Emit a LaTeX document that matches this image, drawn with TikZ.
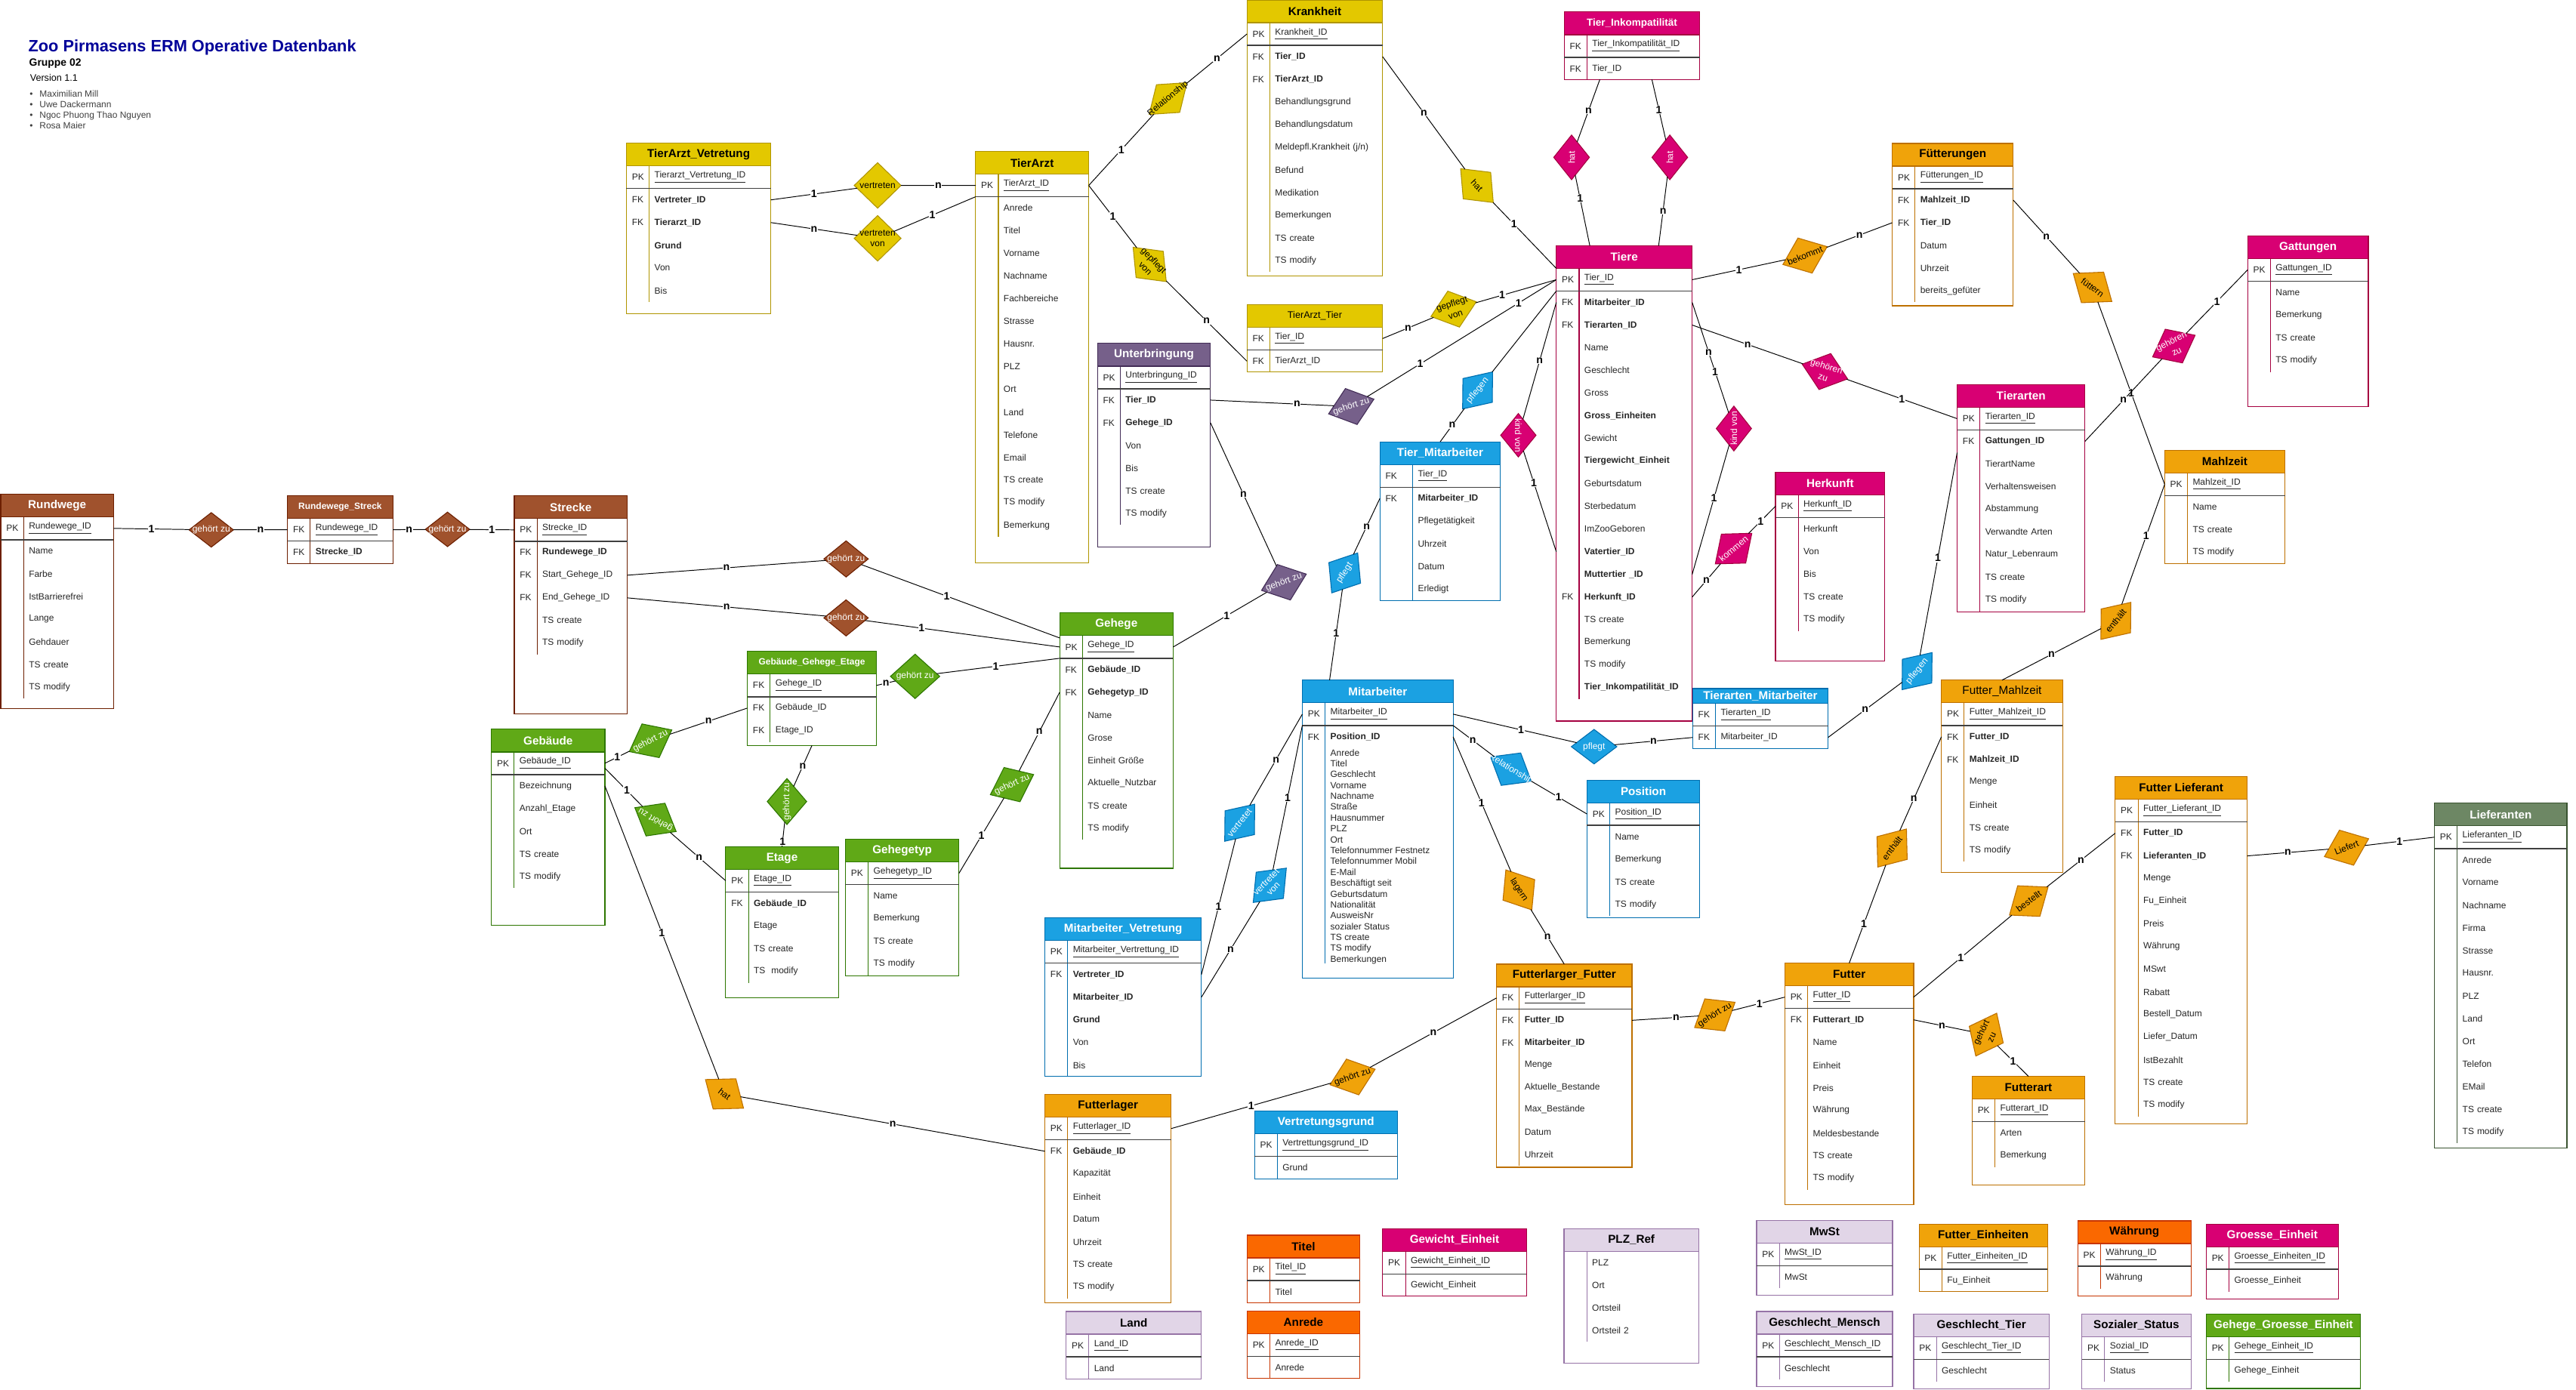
\documentclass[tikz,border=0pt]{standalone}
\usepackage{fontspec}
\setmainfont{Liberation Sans}
\usetikzlibrary{shapes.geometric,calc}

% farben: F = fuellung, L = linie, T = text
\definecolor{yelF}{HTML}{E3C800}\definecolor{yelL}{HTML}{B09500}\colorlet{yelT}{black}
\definecolor{brnF}{HTML}{A0522D}\definecolor{brnL}{HTML}{6D1F00}\colorlet{brnT}{white}
\definecolor{grnF}{HTML}{60A917}\definecolor{grnL}{HTML}{2D7600}\colorlet{grnT}{white}
\definecolor{magF}{HTML}{D80073}\definecolor{magL}{HTML}{A50040}\colorlet{magT}{white}
\definecolor{orgF}{HTML}{F0A30A}\definecolor{orgL}{HTML}{BD7000}\colorlet{orgT}{black}
\definecolor{purF}{HTML}{76608A}\definecolor{purL}{HTML}{432D57}\colorlet{purT}{white}
\definecolor{bluF}{HTML}{1BA1E2}\definecolor{bluL}{HTML}{006EAF}\colorlet{bluT}{white}
\definecolor{olvF}{HTML}{6D8764}\definecolor{olvL}{HTML}{3A5431}\colorlet{olvT}{white}
\definecolor{lilF}{HTML}{E1D5E7}\definecolor{lilL}{HTML}{9673A6}\colorlet{lilT}{black}
\definecolor{redF}{HTML}{FA6800}\definecolor{redL}{HTML}{C73500}\colorlet{redT}{black}
\definecolor{titelblau}{HTML}{000099}

\newcommand{\keyw}{13.9}
\newcommand{\hdrh}{13.8}

% tabelle: [zeilenhoehe]{name}{x}{y}{breite}{hoehe}{farbe}{titel}{zeilen}
\newcommand{\ertable}[9][13.8]{%
  \node[tbox=#7, minimum width=#5pt, minimum height=#6pt] (#2) at (#3,#4) {};
  \node[thead=#7, minimum width=#5pt] (#2-h) at (#3,#4) {#8};
  \foreach[count=\i] \tk/\tv in {#9}{
    \node[trow, text width=#5pt, minimum height=#1pt] (#2-\i) at ($(#2-h.south west)+(0,{(\i-1)*#1})$) {\hspace*{\dimexpr\keyw pt+3.2pt\relax}\tv};
    \node[tkey] (#2-k\i) at ($(#2-\i.west)+(3.2,0)$) {\tk};
    \draw[#7L, line width=0.5pt] ($(#2-\i.north west)+(\keyw,0)$) -- ($(#2-\i.south west)+(\keyw,0)$);
  }
  \draw[tsep] (#2-1.south west) -- (#2-1.south east);
}

\begin{document}
\begin{tikzpicture}[x=1pt, y=-1pt,
		tbox/.style={draw=#1L, line width=0.55pt, anchor=north west, inner sep=0pt, outer sep=0pt},
		thead/.style={draw=#1L, fill=#1F, text=#1T, line width=0.55pt, anchor=north west, inner sep=0pt, outer sep=0pt, minimum height=\hdrh pt, font=\bfseries\fontsize{7}{8.4}\selectfont},
		trow/.style={anchor=north west, inner sep=0pt, outer sep=0pt, align=left, text=black!85, font=\fontsize{5.5}{6.6}\selectfont},
		tkey/.style={anchor=west, inner sep=0pt, text=black!85, font=\fontsize{5.5}{6.6}\selectfont},
		tsep/.style={draw=black!75, line width=0.65pt},
		rel/.style={diamond, draw=#1L, fill=#1F, text=#1T, line width=0.5pt, inner sep=0pt, outer sep=0pt, font=\fontsize{5.5}{6.2}\selectfont},
		conn/.style={draw=black, line width=0.45pt},
		card/.style={fill=white, inner sep=0.3pt, font=\bfseries\fontsize{6.5}{7}\selectfont}]
		
		\fill[white] (0,0) rectangle (1568,846);
		\useasboundingbox (0,0) rectangle (1568,846);
		
		%titel
		\node[anchor=base west, inner sep=0pt, text=titelblau, font=\bfseries\fontsize{10}{12}\selectfont] (titel) at (17.1,31.3) {Zoo Pirmasens ERM Operative Datenbank};
		\node[anchor=base west, inner sep=0pt, font=\bfseries\fontsize{6.4}{7.5}\selectfont] (gruppe) at (17.6,40.4) {Gruppe 02};
		\node[anchor=base west, inner sep=0pt, font=\fontsize{5.8}{7}\selectfont] (version) at (18.1,49.6) {Version 1.1};
		\foreach[count=\i] \autor in {Maximilian Mill, Uwe Dackermann, Ngoc Phuong Thao Nguyen, Rosa Maier}
		\node[anchor=base west, inner sep=0pt, text=black!75, font=\fontsize{5.5}{6.6}\selectfont] (autor\i) at (17.9,{59.1+(\i-1)*6.47}) {\makebox[6pt][l]{\textbullet}\autor};
		
		%rundwege
		\ertable{rundwege}{0.5}{301}{68.6}{130.5}{brn}{Rundwege}{PK/\underline{Rundewege\_ID}, /Name, /Farbe, /IstBarrierefrei, /Lange, /Gehdauer, /TS create, /TS modify}
		\ertable[13.6]{rwstreck}{175}{301.9}{64.1}{41.3}{brn}{\fontsize{5.5}{6.6}\selectfont Rundewege\_Streck}{FK/\underline{Rundewege\_ID}, FK/\textbf{Strecke\_ID}}
		\ertable{strecke}{313}{301.9}{68.8}{132.7}{brn}{Strecke}{PK/\underline{Strecke\_ID}, FK/\textbf{Rundewege\_ID}, FK/Start\_Gehege\_ID, FK/End\_Gehege\_ID, /TS create, /TS modify}
		
		%gebaeude und gehege
		\ertable{gebaeude}{299.1}{444}{69.1}{119.3}{grn}{Gebäude}{PK/\underline{Gebäude\_ID}, /Bezeichnung, /Anzahl\_Etage, /Ort, /TS create, /TS modify}
		\ertable{etage}{441.7}{515.5}{68.6}{91.8}{grn}{Etage}{PK/\underline{Etage\_ID}, FK/\textbf{Gebäude\_ID}, /Etage, /TS create, /TS\ \ modify}
		\ertable{gehegetyp}{514.6}{511}{69.1}{83.1}{grn}{Gehegetyp}{PK/\underline{Gehegetyp\_ID}, /Name, /Bemerkung, /TS create, /TS modify}
		\ertable{gge}{454.9}{396.6}{78.6}{57.3}{grn}{\fontsize{5.5}{6.6}\selectfont Gebäude\_Gehege\_Etage}{FK/\underline{Gehege\_ID}, FK/Gebäude\_ID, FK/Etage\_ID}
		\ertable{gehege}{645}{373.2}{69.1}{155.4}{grn}{Gehege}{PK/\underline{Gehege\_ID}, FK/\textbf{Gebäude\_ID}, FK/\textbf{Gehegetyp\_ID}, /Name, /Grose, /Einheit Größe, /Aktuelle\_Nutzbar, /TS create, /TS modify}
		
		%tierarzt
		\ertable{tierarzt}{593.8}{92.2}{68.9}{250.4}{yel}{TierArzt}{PK/\underline{TierArzt\_ID}, /Anrede, /Titel, /Vorname, /Nachname, /Fachbereiche, /Strasse, /Hausnr., /PLZ, /Ort, /Land, /Telefone, /Email, /TS create, /TS modify, /Bemerkung}
		\ertable{tav}{381.3}{87.2}{87.9}{103.7}{yel}{TierArzt\_Vetretung}{PK/\underline{Tierarzt\_Vertretung\_ID}, FK/\textbf{Vertreter\_ID}, FK/\textbf{Tierarzt\_ID}, /\textbf{Grund}, /Von, /Bis}
		\ertable{krankheit}{759}{0}{82.6}{168}{yel}{Krankheit}{PK/\underline{Krankheit\_ID}, FK/\textbf{Tier\_ID}, FK/\textbf{TierArzt\_ID}, /Behandlungsgrund, /Behandlungsdatum, /{Meldepfl.Krankheit (j/n)}, /Befund, /Medikation, /Bemerkungen, /TS create, /TS modify}
		\ertable{tat}{759}{185.4}{82.6}{41.1}{yel}{\mdseries\fontsize{5.8}{7}\selectfont TierArzt\_Tier}{FK/\underline{Tier\_ID}, FK/TierArzt\_ID}
		\ertable{unterbr}{668}{209.1}{68.8}{124.1}{pur}{Unterbringung}{PK/\underline{Unterbringung\_ID}, FK/\textbf{Tier\_ID}, FK/\textbf{Gehege\_ID}, /Von, /Bis, /TS create, /TS modify}
		
		%tiere
		\ertable{tinkomp}{952.1}{7.3}{82.5}{41.1}{mag}{\fontsize{6.2}{7.4}\selectfont Tier\_Inkompatilität}{FK/\underline{Tier\_Inkompatilität\_ID}, FK/Tier\_ID}
		\ertable{tiere}{947.3}{149.6}{82.7}{289.4}{mag}{Tiere}{PK/\underline{Tier\_ID}, FK/\textbf{Mitarbeiter\_ID}, FK/\textbf{Tierarten\_ID}, /Name, /Geschlecht, /Gross, /\textbf{Gross\_Einheiten}, /Gewicht, /\textbf{Tiergewicht\_Einheit}, /Geburtsdatum, /Sterbedatum, /ImZooGeboren, /\textbf{Vatertier\_ID}, /\textbf{Muttertier \_ID}, FK/\textbf{Herkunft\_ID}, /TS create, /Bemerkung, /TS modify, /\textbf{Tier\_Inkompatilität\_ID}}
		\begin{scope}
			\renewcommand{\keyw}{20}
			\ertable{tiermit}{839.9}{269}{73.4}{96.7}{blu}{Tier\_Mitarbeiter}{FK/\underline{Tier\_ID}, FK/\textbf{Mitarbeiter\_ID}, /Pflegetätigkeit, /Uhrzeit, /Datum, /Erledigt}
		\end{scope}
		\ertable{herkunft}{1080.7}{287.5}{66.6}{114.9}{mag}{Herkunft}{PK/\underline{Herkunft\_ID}, /Herkunft, /Von, /Bis, /TS create, /TS modify}
		\ertable{fuetter}{1151.8}{87.3}{73.6}{98.9}{org}{Fütterungen}{PK/\underline{Fütterungen\_ID}, FK/\textbf{Mahlzeit\_ID}, FK/\textbf{Tier\_ID}, /Datum, /Uhrzeit, /bereits\_gefüter}
		\ertable{gattungen}{1368.1}{143.6}{73.5}{103.8}{mag}{Gattungen}{PK/\underline{Gattungen\_ID}, /Name, /Bemerkung, /TS create, /TS modify}
		\ertable{tierarten}{1191.3}{234.2}{77.8}{138.2}{mag}{Tierarten}{PK/\underline{Tierarten\_ID}, FK/\textbf{Gattungen\_ID}, /TierartName, /Verhaltensweisen, /Abstammung, /Verwandte Arten, /Natur\_Lebenraum, /TS create, /TS modify}
		\ertable{mahlzeit}{1317.6}{274.2}{73.2}{69}{org}{Mahlzeit}{PK/\underline{Mahlzeit\_ID}, /Name, /TS create, /TS modify}
		
		%mitarbeiter
		\ertable{mitarb}{792.7}{414.1}{91.8}{181.3}{blu}{Mitarbeiter}{PK/\underline{Mitarbeiter\_ID}, FK/\textbf{Position\_ID}}
		\node[trow, font=\fontsize{5.5}{6.61}\selectfont] (mitarb-liste) at ($(mitarb-2.south west)+(17.1,0.7)$) {Anrede\\Titel\\Geschlecht\\Vorname\\Nachname\\Straße\\Hausnummer\\PLZ\\Ort\\Telefonnummer Festnetz\\Telefonnummer Mobil\\E-Mail\\Beschäftigt seit\\Geburtsdatum\\Nationalität\\AusweisNr\\sozialer Status\\TS create\\TS modify\\Bemerkungen};
		\draw[bluL, line width=0.5pt] ($(mitarb-2.south west)+(\keyw,0)$) -- ++(0,130.9);
		\ertable{position}{966}{474.9}{68.6}{83.7}{blu}{Position}{PK/\underline{Position\_ID}, /Name, /Bemerkung, /TS create, /TS modify}
		\begin{scope}
			\renewcommand{\hdrh}{9.1}
			\ertable{tam}{1030.3}{419.2}{82.4}{36.5}{blu}{Tierarten\_Mitarbeiter}{FK/\underline{Tierarten\_ID}, FK/Mitarbeiter\_ID}
		\end{scope}
		\ertable{mvertr}{636}{558.8}{95.3}{96.5}{blu}{Mitarbeiter\_Vetretung}{PK/\underline{Mitarbeiter\_Vertrettung\_ID}, FK/\textbf{Vertreter\_ID}, /\textbf{Mitarbeiter\_ID}, /\textbf{Grund}, /Von, /Bis}
		\ertable{vgrund}{763.6}{676.5}{87}{41.3}{blu}{Vertretungsgrund}{PK/\underline{Vertrettungsgrund\_ID}, /Grund}
		
		%futter
		\ertable{fmahl}{1181.7}{414.1}{73.8}{117}{org}{\mdseries Futter\_Mahlzeit}{PK/\underline{Futter\_Mahlzeit\_ID}, FK/\textbf{Futter\_ID}, FK/\textbf{Mahlzeit\_ID}, /Menge, /Einheit, /TS create, /TS modify}
		\ertable{flief}{1287.5}{472.8}{80.3}{211.4}{org}{Futter Lieferant}{PK/\underline{Futter\_Lieferant\_ID}, FK/\textbf{Futter\_ID}, FK/\textbf{Lieferanten\_ID}, /Menge, /Fu\_Einheit, /Preis, /Währung, /MSwt, /Rabatt, /Bestell\_Datum, /Liefer\_Datum, /IstBezahlt, /TS create, /TS modify}
		\ertable{liefer}{1481.8}{489}{80.7}{210}{olv}{Lieferanten}{PK/\underline{Lieferanten\_ID}, /Anrede, /Vorname, /Nachname, /Firma, /Strasse, /Hausnr., /PLZ, /Land, /Ort, /Telefon, /EMail, /TS create, /TS modify}
		\ertable{futter}{1086.4}{586.4}{78.4}{147}{org}{Futter}{PK/\underline{Futter\_ID}, FK/\textbf{Futterart\_ID}, /Name, /Einheit, /Preis, /Währung, /Meldesbestande, /TS create, /TS modify}
		\ertable{futterart}{1200.4}{655.3}{68.6}{66.3}{org}{Futterart}{PK/\underline{Futterart\_ID}, /Arten, /Bemerkung}
		\ertable[13.6]{ffutter}{910.9}{587}{82.5}{123.7}{org}{Futterlarger\_Futter}{FK/\underline{Futterlarger\_ID}, FK/\textbf{Futter\_ID}, FK/\textbf{Mitarbeiter\_ID}, /Menge, /Aktuelle\_Bestande, /Max\_Bestände, /Datum, /Uhrzeit}
		\ertable{flager}{636}{666.4}{76.9}{126.9}{org}{Futterlager}{PK/\underline{Futterlager\_ID}, FK/\textbf{Gebäude\_ID}, /Kapazität, /Einheit, /Datum, /Uhrzeit, /TS create, /TS modify}
		
		%referenztabellen
		\ertable{titel-ref}{759.1}{752}{68.6}{41.1}{red}{Titel}{PK/\underline{Titel\_ID}, /Titel}
		\ertable{anrede}{759.1}{798.1}{68.6}{41}{red}{Anrede}{PK/\underline{Anrede\_ID}, /Anrede}
		\ertable{land}{648.9}{798.5}{82.4}{41}{lil}{Land}{PK/\underline{Land\_ID}, /Land}
		\ertable{gewicht}{841.6}{748}{87.5}{41.1}{mag}{Gewicht\_Einheit}{PK/\underline{Gewicht\_Einheit\_ID}, /Gewicht\_Einheit}
		\begin{scope}[tsep/.style={draw=none}]
			\ertable{plzref}{952}{748}{82}{82}{lil}{PLZ\_Ref}{/PLZ, /Ort, /Ortsteil, /Ortsteil 2}
		\end{scope}
		\ertable{mwst}{1069.2}{743}{82.8}{45.6}{lil}{MwSt}{PK/\underline{MwSt\_ID}, /MwSt}
		\ertable{feinh}{1168.1}{745.2}{78.2}{41.1}{org}{Futter\_Einheiten}{PK/\underline{Futter\_Einheiten\_ID}, /Fu\_Einheit}
		\ertable{waehrung}{1264.7}{743.3}{68.9}{45.8}{red}{Währung}{PK/\underline{Währung\_ID}, /Währung}
		\ertable{groesse}{1342.9}{745.2}{80.4}{45.8}{mag}{Groesse\_Einheit}{PK/\underline{Groesse\_Einheiten\_ID}, /Groesse\_Einheit}
		\ertable{gmensch}{1069.2}{798.5}{82.8}{45.6}{lil}{Geschlecht\_Mensch}{PK/\underline{Geschlecht\_Mensch\_ID}, /Geschlecht}
		\ertable{gtier}{1164.8}{800}{82.5}{45.5}{lil}{Geschlecht\_Tier}{PK/\underline{Geschlecht\_Tier\_ID}, /Geschlecht}
		\ertable{sozial}{1267.2}{800}{66.4}{45.5}{lil}{Sozialer\_Status}{PK/\underline{Sozial\_ID}, /Status}
		\ertable{ggeinh}{1342.9}{800}{93.8}{45.4}{grn}{Gehege\_Groesse\_Einheit}{PK/\underline{Gehege\_Einheit\_ID}, /Gehege\_Einheit}
		
		%beziehungen
		\foreach \rn/\rc/\rx/\ry/\ra/\rw/\rh/\rt in {
			rw1/brn/128.6/322.6/0/27/21/gehört zu,
			rw2/brn/272.4/322.3/0/27/21/gehört zu,
			st1/brn/515/340.3/0/27/22/gehört zu,
			st2/brn/515/376.2/0/27/22/gehört zu,
			gg1/grn/557/411.8/0/30/27/gehört zu,
			gb1/grn/396/451/27/29/23/gehört zu,
			gb2/grn/399/499/150/29/23/gehört zu,
			gt1/grn/616/477.7/25/29/23/gehört zu,
			ge1/grn/479/488/90/28/24/gehört zu,
			fl1/org/441/666/-37/29/23/hat,
			va1/yel/534.2/112.9/0/28.5/27.7/vertreten,
			va2/yel/534.2/145.1/0/28.5/27.7/\shortstack{vertreten\\von},
			kr1/yel/711/60/40/30/22/Relationship,
			tt1/yel/699.8/161/-46/29/23/\shortstack{gepflegt\\von},
			kr2/yel/899/113/-46/28.6/23.2/hat,
			ik1/mag/956.6/95.8/90/27.2/21.7/hat,
			ik2/mag/1016.4/95.8/90/27.2/21.7/hat,
			fu1/org/1098.7/155.6/22/29/23/bekommt,
			ta1/mag/1110.8/226.2/-18/29/23/\shortstack{gehören\\zu},
			mz1/org/1273.7/175/-36/29/23/füttern,
			ga1/mag/1323.2/210.7/27/29/23/\shortstack{gehören\\zu},
			ub1/pur/822.5/247.5/18/29/23/gehört zu,
			tt2/yel/884.8/188.2/18/29/23/\shortstack{gepflegt\\von},
			ub2/pur/781.5/354.5/20/29/23/gehört zu,
			tm1/blu/899.4/237.7/51/29/23/pflegen,
			tm2/blu/818.5/348.8/57/29/23/pflegt,
			kv1/mag/924.2/265/-90/26.4/21.5/kind von,
			kv2/mag/1055.4/260.9/90/27.3/21.4/kind von,
			hk1/mag/1055.2/334/40/29/23/kommen,
			ma1/blu/970.3/454.6/0/27.7/21/pflegt,
			ma2/blu/1166.9/408.6/51/29/23/pflegen,
			mz2/org/1287.9/378/51/29/23/enthält,
			mz3/org/1151.7/516.3/53/29/23/enthält,
			fu2/org/1234.9/548.6/36/29/23/bestellt,
			li1/org/1428.3/516.1/22/29/23/Liefert,
			fu3/org/1043.8/617.9/32/29/23/gehört zu,
			fg1/org/823.3/655.7/19/29/23/gehört zu,
			ma3/org/924.5/541.8/-57/29/23/lagern,
			po1/blu/919.7/468.3/-31/29/23/Relationship,
			mv1/blu/754.6/500.9/51/29/23/vertretet,
			mv2/blu/772.9/539/46/29/23/\shortstack{vertretet\\von},
			fa1/org/1209/629.9/64/29/23/\shortstack{gehört\\zu}}
		\node[rel=\rc, rotate=\ra, minimum width=\rw pt, minimum height=\rh pt] (\rn) at (\rx,\ry) {\makebox[0pt]{\rt}};
		
		%anschlusspunkte
		\coordinate (geh-a) at ($(gehege-1.west)+(0,-5.5)$);
		\coordinate (gb-a) at ($(gebaeude-1.east)+(0,3)$);
		\coordinate (tk-a) at ($(tinkomp.south west)+(21.7,0)$);
		\coordinate (tk-b) at ($(tinkomp.south west)+(53.4,0)$);
		\coordinate (ti-a) at ($(tiere.north west)+(20.4,0)$);
		\coordinate (ti-b) at ($(tiere.north west)+(62.3,0)$);
		\coordinate (ma-top) at ($(mitarb.north west)+(16.6,0)$);
		
		%verbindungen
		\foreach \von/\nach/\kard/\p in {
			rundwege-1.east/rw1/1/0.5, rw1/rwstreck-1.west/n/0.5,
			rwstreck-1.east/rw2/n/0.5, rw2/strecke-1.west/1/0.5,
			strecke-3.east/st1/n/0.5, st1/geh-a/1/0.43,
			strecke-4.east/st2/n/0.5, st2/gehege-1.west/1/0.29,
			gge-1.east/gg1/n/0.5, gg1/gehege-1.south west/1/0.48,
			gebaeude-1.east/gb1/1/0.5, gb1/gge-2.west/n/0.5,
			gb-a/gb2/1/0.58, gb2/etage-1.west/n/0.52,
			gehege-3.west/gt1/n/0.5, gt1/gehegetyp-1.east/1/0.5,
			gge.south/ge1/n/0.5, ge1/etage.north/1/0.8,
			gebaeude-2.east/fl1/1/0.5, fl1/flager-2.west/n/0.5,
			tav-2.east/va1/1/0.5, va1/tierarzt-1.west/n/0.5,
			tav-3.east/va2/n/0.5, va2/tierarzt-1.south west/1/0.47,
			tierarzt-1.east/kr1/1/0.5, kr1/krankheit-1.west/n/0.5,
			tierarzt-1.east/tt1/1/0.5, tt1/tat-2.west/n/0.5,
			krankheit-2.east/kr2/n/0.5, kr2/tiere-1.north west/1/0.33,
			tk-a/ik1/n/0.5, ik1/ti-a/1/0.33,
			tk-b/ik2/1/0.5, ik2/ti-b/n/0.5,
			tiere-1.east/fu1/1/0.5, fu1/fuetter-3.west/n/0.5,
			tiere-3.east/ta1/n/0.5, ta1/tierarten-1.west/1/0.5,
			fuetter-2.east/mz1/n/0.5, mz1/mahlzeit-1.west/1/0.5,
			tierarten-2.east/ga1/n/0.5, ga1/gattungen-1.west/1/0.5,
			unterbr-2.east/ub1/n/0.7,
			tat-1.east/tt2/n/0.5, tt2/tiere-1.west/1/0.33,
			gehege-1.east/ub2/1/0.57, ub2/unterbr-3.east/n/0.5,
			tiermit.north/tm1/n/0.5,
			tiermit-2.west/tm2/n/0.5, tm2/ma-top/1/0.48,
			tiere-2.west/kv1/n/0.5, kv1/tiere-13.west/1/0.32,
			kv2/tiere-14.east/1/0.41,
			tiere-15.east/hk1/n/0.5, hk1/herkunft-1.west/1/0.45,
			mitarb-1.east/ma1/1/0.55, ma1/tam-2.west/n/0.5,
			tam-2.east/ma2/n/0.5, ma2/tierarten-2.south west/1/0.48,
			mahlzeit-1.west/mz2/1/0.43, mz2/fmahl.north/n/0.5,
			fmahl-2.west/mz3/n/0.66, mz3/futter.north/1/0.6,
			futter-1.east/fu2/1/0.48, fu2/flief-2.west/n/0.5,
			flief-3.east/li1/n/0.5, li1/liefer-1.west/1/0.5,
			ffutter-2.east/fu3/n/0.66, fu3/futter-1.west/1/0.52,
			flager-1.east/fg1/1/0.5, fg1/ffutter-1.west/n/0.5,
			mitarb-2.east/ma3/1/0.49, ma3/ffutter.north/n/0.5,
			mitarb-1.south east/po1/n/0.48, po1/position-1.west/1/0.49,
			mitarb-1.west/mv1/n/0.5, mv1/mvertr-2.east/1/0.5,
			mitarb-1.south west/mv2/1/0.5, mv2/mvertr-3.east/n/0.5,
			futter-2.east/fa1/n/0.5, fa1/futterart.north/1/0.5}
		\draw[conn] (\von) -- node[card, pos=\p] {\kard} (\nach);
		
		\draw[conn] (ub1) -- node[card, pos=0.28] {1} node[card, pos=0.8] {1} (tiere-1.west);
		\draw[conn] (tm1) -- (tiere-1.south west);
		\draw[conn] (tiere-2.east) -- node[card, pos=0.45] {n} node[card, pos=0.63] {1} (kv2);
		
	\end{tikzpicture}
\end{document}
